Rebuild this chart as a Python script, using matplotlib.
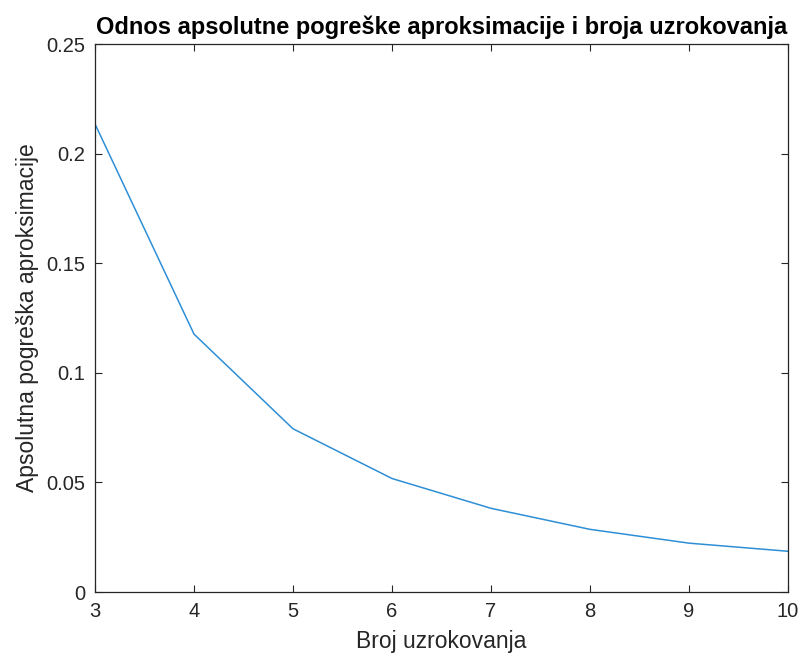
import matplotlib.pyplot as plt

# error vs number of samples
broj = [3, 4, 5, 6, 7, 8, 9, 10]
pogreska = [0.2136, 0.1177, 0.0745, 0.0518, 0.0382, 0.0286, 0.0223, 0.0186]

xticks = [3, 4, 5, 6, 7, 8, 9, 10]
yticks = [0, 0.05, 0.1, 0.15, 0.2, 0.25]
ytick_labels = ['0', '0.05', '0.1', '0.15', '0.2', '0.25']

plt.rcParams['font.family'] = ['Liberation Sans', 'DejaVu Sans']
dark = '#262626'

fig = plt.figure(figsize=(8.01, 6.6), dpi=100)
ax = fig.add_axes([0.1186, 0.103, 0.8652, 0.830])

ax.plot(broj, pogreska, color='#2E8FD6', linewidth=1.1)

ax.set_xlim(3, 10)
ax.set_ylim(0, 0.25)
ax.set_xticks(xticks)
ax.set_xticklabels([str(t) for t in xticks])
ax.set_yticks(yticks)
ax.set_yticklabels(ytick_labels)

ax.tick_params(direction='in', length=5, width=0.8, colors=dark,
               labelsize=14.5, top=True, right=True, pad=7)
for s in ax.spines.values():
    s.set_color(dark)
    s.set_linewidth(0.9)

ax.set_title('Odnos apsolutne pogreške aproksimacije i broja uzrokovanja',
             fontsize=17, fontweight='bold', color='black', pad=7)
ax.set_xlabel('Broj uzrokovanja', fontsize=16.5, color=dark, labelpad=7)
ax.set_ylabel('Apsolutna pogreška aproksimacije', fontsize=16.5, color=dark, labelpad=5)

fig.savefig('out.png', dpi=100)
